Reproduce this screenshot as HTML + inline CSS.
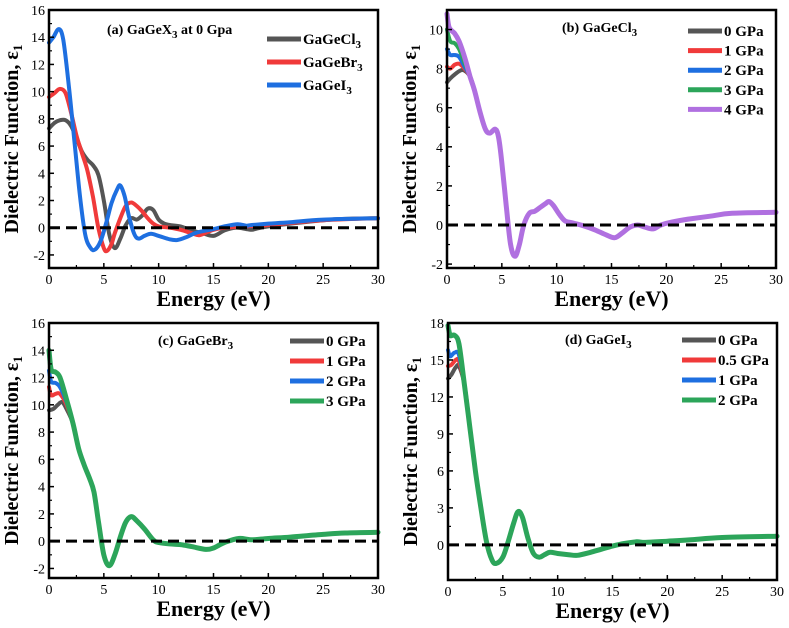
<!DOCTYPE html>
<html><head><meta charset="utf-8"><style>
body{margin:0;background:#fff}
svg,svg text{font-family:"Liberation Serif","Times New Roman",serif}
</style></head><body>
<svg id="fig" width="789" height="623" viewBox="0 0 789 623" font-family="Liberation Serif, serif"></svg>
<script>
// ---- data arrays (energy eV, epsilon1) ----
const aCl=[[0,7.3],[0.5,7.7],[1,7.9],[1.5,7.9],[2,7.5],[2.5,6.6],[3,5.6],[3.5,5.0],[4,4.6],[4.5,3.9],[5,2.0],[5.5,-0.5],[6,-1.5],[6.5,-0.8],[7,0.2],[7.5,0.7],[8,0.6],[8.5,0.9],[9,1.4],[9.5,1.3],[10,0.6],[10.5,0.3],[11,0.2],[12,0.1],[13,-0.2],[14,-0.4],[15,-0.6],[16,-0.2],[17,0.0],[18,-0.1],[18.5,-0.15],[19,-0.05],[20,0.1],[22,0.3],[25,0.55],[27,0.65],[30,0.7]];
const aBr=[[0,9.6],[0.5,9.9],[1,10.2],[1.5,9.9],[2,8.5],[2.5,6.8],[3,5.5],[3.5,4.2],[4,2.3],[4.5,0.0],[5,-1.5],[5.3,-1.7],[5.7,-1.2],[6,-0.4],[6.5,0.7],[7,1.6],[7.5,1.85],[8,1.6],[8.5,1.2],[9,0.7],[9.5,0.3],[10,0.1],[11,0.0],[12,-0.15],[13,-0.4],[13.7,-0.55],[14.5,-0.3],[15,-0.15],[16,0.0],[17,0.05],[18,0.1],[20,0.2],[22,0.35],[25,0.55],[30,0.7]];
const aI=[[0,13.6],[0.4,14.0],[0.9,14.6],[1.3,13.8],[1.8,10.5],[2.3,6.5],[2.8,2.5],[3.3,-0.5],[3.8,-1.5],[4.2,-1.6],[4.7,-1.0],[5.2,0.3],[5.7,1.8],[6.2,2.8],[6.5,3.1],[6.9,2.3],[7.3,0.8],[7.8,-0.5],[8.2,-0.8],[8.7,-0.6],[9.3,-0.45],[10,-0.6],[11,-0.85],[11.7,-0.9],[12.5,-0.7],[13.5,-0.35],[15,-0.1],[16,0.1],[17.2,0.25],[18,0.15],[18.5,0.2],[20,0.3],[22,0.4],[25,0.6],[30,0.7]];

const bHead0=[[0,7.3],[0.3,7.5],[0.7,7.7],[1.2,7.9],[1.6,7.9]];
const bHead1=[[0,8.1],[0.3,8.0],[0.7,8.2],[1.1,8.25],[1.6,8.0]];
const bHead2=[[0,9.0],[0.3,8.7],[0.7,8.7],[1.1,8.6],[1.6,8.1]];
const bHead3=[[0,10.0],[0.3,9.4],[0.7,9.3],[1.1,9.0],[1.6,8.3]];
const bHead4=[[0,10.8],[0.2,10.1],[0.7,9.8],[1.1,9.4],[1.6,8.6]];
const bTail=[[2.1,7.6],[2.5,6.9],[3,5.8],[3.5,4.9],[3.9,4.7],[4.4,4.9],[4.7,4.5],[5,3.2],[5.4,1.0],[5.8,-1.0],[6.2,-1.6],[6.6,-1.0],[7,0.0],[7.5,0.6],[8,0.7],[8.5,0.9],[9,1.1],[9.3,1.2],[9.7,1.0],[10.3,0.5],[10.8,0.2],[11.5,0.1],[12.5,-0.05],[13.5,-0.25],[14.5,-0.5],[15.3,-0.65],[16,-0.4],[16.7,-0.1],[17.4,0.0],[18,-0.1],[18.8,-0.2],[19.5,0.0],[20.5,0.15],[22,0.3],[24,0.45],[26,0.6],[30,0.65]];

const cHead0=[[0,9.6],[0.4,9.7],[0.8,10.0],[1.2,10.2],[1.6,9.7]];
const cHead1=[[0,11.3],[0.2,10.7],[0.6,10.8],[1.0,10.8],[1.6,10.0]];
const cHead2=[[0,12.5],[0.2,11.7],[0.6,11.6],[1.0,11.3],[1.6,10.2]];
const cHead3=[[0,14.0],[0.2,12.6],[0.6,12.4],[1.0,12.0],[1.6,10.4]];
const cTail=[[2.2,8.6],[2.7,6.8],[3.2,5.6],[3.7,4.6],[4.1,3.6],[4.5,1.5],[5,-1.0],[5.5,-1.8],[6,-1.0],[6.5,0.3],[7,1.4],[7.5,1.8],[8,1.5],[8.7,0.9],[9.5,0.1],[10,-0.1],[11,-0.2],[12,-0.25],[13,-0.4],[14.3,-0.6],[15,-0.5],[16,-0.1],[17.3,0.2],[18.5,0.1],[20,0.2],[22,0.3],[25,0.5],[27,0.6],[30,0.65]];

const dHead0=[[0,13.5],[0.3,13.8],[0.7,14.4],[1.0,14.5]];
const dHead05=[[0,14.5],[0.3,14.6],[0.7,15.0],[1.0,14.9]];
const dHead1=[[0,15.8],[0.2,15.3],[0.6,15.6],[1.0,15.4]];
const dHead2=[[0,17.8],[0.2,17.0],[0.6,17.0],[1.0,16.3]];
const dTail=[[1.5,13.0],[2,9.5],[2.5,6.0],[3,3.0],[3.5,0.3],[4,-1.2],[4.4,-1.5],[5,-1.0],[5.5,0.3],[6,1.8],[6.4,2.7],[6.8,2.2],[7.3,0.5],[7.8,-0.7],[8.3,-1.0],[8.8,-0.8],[9.3,-0.6],[10,-0.7],[11,-0.8],[11.8,-0.85],[13,-0.6],[14,-0.35],[15,-0.1],[16,0.1],[17.2,0.25],[18,0.2],[20,0.3],[22,0.4],[25,0.6],[30,0.7]];

const xTicks=[0,5,10,15,20,25,30];
const aYTicks=[-2,0,2,4,6,8,10,12,14,16];
const bYTicks=[-2,0,2,4,6,8,10];
const cYTicks=[-2,0,2,4,6,8,10,12,14,16];
const dYTicks=[0,3,6,9,12,15,18];

const GRAY="#555555",RED="#f03a3a",BLUE="#1e6fe0",GREEN="#2ca55a",PURPLE="#b070e0";
const FF="Liberation Serif, serif";
const NS="http://www.w3.org/2000/svg";
const fig=document.getElementById('fig');
function el(t,a,p){const e=document.createElementNS(NS,t);for(const k in a)e.setAttribute(k,a[k]);if(t==='text')e.setAttribute('font-family',FF);(p||fig).appendChild(e);return e;}
function smooth(pts){let d="M"+pts[0][0].toFixed(1)+","+pts[0][1].toFixed(1);
 for(let i=0;i<pts.length-1;i++){const p0=pts[Math.max(0,i-1)],p1=pts[i],p2=pts[i+1],p3=pts[Math.min(pts.length-1,i+2)];
 const c1=[p1[0]+(p2[0]-p0[0])/6,p1[1]+(p2[1]-p0[1])/6],c2=[p2[0]-(p3[0]-p1[0])/6,p2[1]-(p3[1]-p1[1])/6];
 d+="C"+c1.map(v=>v.toFixed(1))+" "+c2.map(v=>v.toFixed(1))+" "+p2.map(v=>v.toFixed(1));}return d;}

function panel(cfg){
 const g=el('g',{});
 
 
 const X=v=>cfg.x0+(v-0)/(30)*(cfg.x1-cfg.x0);
 const Y=v=>cfg.y1-(v-cfg.ymin)/(cfg.ymax-cfg.ymin)*(cfg.y1-cfg.y0);
 cfg.series.forEach(s=>{
  const p=el('path',{d:smooth(s.data.map(q=>[X(q[0]),Y(q[1])])),fill:"none",stroke:s.color,"stroke-width":s.w||4,"stroke-linejoin":"round","stroke-linecap":"round"},g);
  
  
 });
 const z=el('line',{x1:cfg.x0,x2:cfg.x1,y1:Y(0),y2:Y(0),stroke:"#000","stroke-width":3,"stroke-dasharray":"11,6"},g);
 
 
 const f=el('rect',{x:cfg.x0,y:cfg.y0,width:cfg.x1-cfg.x0,height:cfg.y1-cfg.y0,fill:"none",stroke:"#000","stroke-width":2.5},g);
 
 
 xTicks.forEach((t,i)=>{
  el('line',{x1:X(t),x2:X(t),y1:cfg.y1,y2:cfg.y1-5,stroke:"#000","stroke-width":1.5},g);
  if(i<xTicks.length-1) el('line',{x1:X(t+2.5),x2:X(t+2.5),y1:cfg.y1,y2:cfg.y1-3,stroke:"#000","stroke-width":1.2},g);
  const tx=el('text',{x:X(t),y:cfg.y1+16,"font-size":14,"text-anchor":"middle"},g);tx.textContent=t;
  
  
 });
 cfg.yt.forEach((t,i)=>{
  el('line',{x1:cfg.x0,x2:cfg.x0+5,y1:Y(t),y2:Y(t),stroke:"#000","stroke-width":1.5},g);
  if(i<cfg.yt.length-1){const m=(t+cfg.yt[i+1])/2;el('line',{x1:cfg.x0,x2:cfg.x0+3,y1:Y(m),y2:Y(m),stroke:"#000","stroke-width":1.2},g);}
  const tx=el('text',{x:cfg.x0-4,y:Y(t)+5,"font-size":14,"text-anchor":"end"},g);tx.textContent=t;
  
  
 });
 const xt=el('text',{x:(cfg.x0+cfg.x1)/2,y:cfg.y1+38,"font-size":22,"font-weight":"bold","text-anchor":"middle"},g);
 xt.textContent="Energy (eV)";
 
 
 const cy=(cfg.y0+cfg.y1)/2,cx=cfg.x0-31;
 const yt=el('text',{x:cx,y:cy,"font-size":20,"font-weight":"bold","text-anchor":"middle",transform:`rotate(-90 ${cx} ${cy})`},g);
 yt.innerHTML='Dielectric Function, ε<tspan font-size="13" dy="4">1</tspan>';
 
 
 const tl=el('text',{x:cfg.tx,y:cfg.ty,"font-size":14,"font-weight":"bold"},g);
 tl.innerHTML=cfg.title;
 
 
 cfg.series.forEach((s,i)=>{
  const ly=cfg.ly+i*cfg.ld;
  const lg=el('g',{},g);
  
  
  el('line',{x1:cfg.lx,x2:cfg.lx+34,y1:ly,y2:ly,stroke:s.color,"stroke-width":5},lg);
  const t=el('text',{x:cfg.lx+36,y:ly+5,"font-size":15,"font-weight":"bold"},lg);t.innerHTML=s.label;
 });
}
const sub=s=>`<tspan font-size="11" dy="4">${s}</tspan>`;
panel({name:'panel-a',x0:49,x1:378,y0:10,y1:268,ymin:-2.96,ymax:16,yt:aYTicks,tx:107,ty:34,title:'(a) GaGeX'+sub(3)+'<tspan dy="-4"> at 0 Gpa</tspan>',lx:267,ly:39,ld:23,
 series:[{key:'gagecl3',data:aCl,color:GRAY,label:'GaGeCl'+sub(3)},{key:'gagebr3',data:aBr,color:RED,label:'GaGeBr'+sub(3)},{key:'gagei3',data:aI,color:BLUE,label:'GaGeI'+sub(3)}]});
panel({name:'panel-b',x0:447,x1:776,y0:10,y1:268,ymin:-2.2,ymax:11,yt:bYTicks,tx:562,ty:32,title:'(b) GaGeCl'+sub(3),lx:688,ly:31,ld:19.6,
 series:[{key:'0gpa',data:bHead0.concat(bTail),color:GRAY,label:'0 GPa'},{key:'1gpa',data:bHead1.concat(bTail),color:RED,label:'1 GPa'},{key:'2gpa',data:bHead2.concat(bTail),color:BLUE,label:'2 GPa'},{key:'3gpa',data:bHead3.concat(bTail),color:GREEN,label:'3 GPa'},{key:'4gpa',data:bHead4.concat(bTail),color:PURPLE,label:'4 GPa',w:5}]});
panel({name:'panel-c',x0:49,x1:378,y0:323,y1:578,ymin:-2.7,ymax:16,yt:cYTicks,tx:158,ty:345,title:'(c) GaGeBr'+sub(3),lx:290,ly:341,ld:20,
 series:[{key:'0gpa',data:cHead0.concat(cTail),color:GRAY,label:'0 GPa'},{key:'1gpa',data:cHead1.concat(cTail),color:RED,label:'1 GPa'},{key:'2gpa',data:cHead2.concat(cTail),color:BLUE,label:'2 GPa'},{key:'3gpa',data:cHead3.concat(cTail),color:GREEN,label:'3 GPa',w:5}]});
panel({name:'panel-d',x0:448,x1:777,y0:323,y1:580,ymin:-2.85,ymax:18,yt:dYTicks,tx:565,ty:344,title:'(d) GaGeI'+sub(3),lx:682,ly:340,ld:20,
 series:[{key:'0gpa',data:dHead0.concat(dTail),color:GRAY,label:'0 GPa'},{key:'05gpa',data:dHead05.concat(dTail),color:RED,label:'0.5 GPa'},{key:'1gpa',data:dHead1.concat(dTail),color:BLUE,label:'1 GPa'},{key:'2gpa',data:dHead2.concat(dTail),color:GREEN,label:'2 GPa',w:5}]});
</script>
</body></html>
